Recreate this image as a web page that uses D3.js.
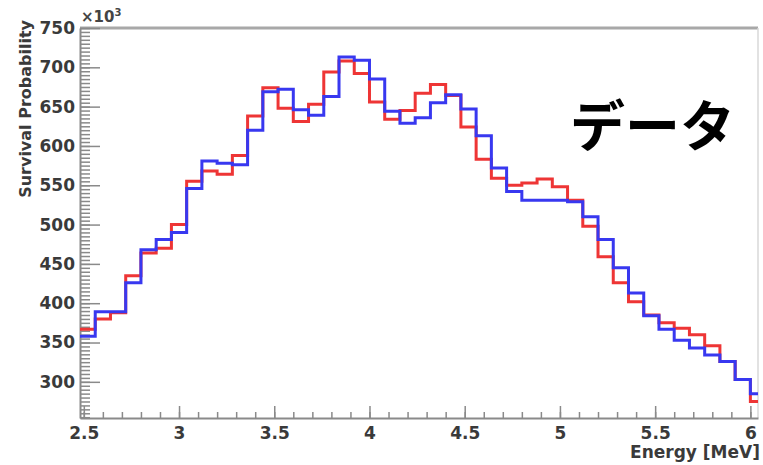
<!DOCTYPE html>
<html>
<head>
<meta charset="utf-8">
<script src="https://cdn.jsdelivr.net/npm/d3@7"></script>
<style>
  body { margin: 0; background: #fff; }
  .tick text { font-family: "DejaVu Sans", sans-serif; font-weight: bold; fill: #3a3a3a; }
</style>
</head>
<body>
<svg id="chart" width="763" height="465"></svg>
<script>
// lower edge of each energy bin [MeV]
const binEdges = [2.48, 2.56, 2.64, 2.72, 2.80, 2.88, 2.96, 3.04, 3.12, 3.20,
    3.28, 3.36, 3.44, 3.52, 3.60, 3.68, 3.76, 3.84, 3.92, 4.00,
    4.08, 4.16, 4.24, 4.32, 4.40, 4.48, 4.56, 4.64, 4.72, 4.80,
    4.88, 4.96, 5.04, 5.12, 5.20, 5.28, 5.36, 5.44, 5.52, 5.60,
    5.68, 5.76, 5.84, 5.92, 6.00, 6.08];

// bin contents, x10^3
const redCounts = [367, 380, 388, 435, 464, 470, 500, 555, 568, 564,
    588, 638, 674, 648, 631, 653, 694, 708, 692, 656,
    634, 645, 667, 678, 664, 624, 583, 559, 550, 553,
    558, 548, 531, 498, 459, 426, 402, 385, 375, 368,
    360, 346, 326, 303, 275];

const blueCounts = [358, 389, 389, 426, 468, 481, 490, 546, 581, 578,
    576, 620, 669, 672, 646, 639, 663, 713, 709, 685,
    644, 629, 636, 655, 665, 647, 613, 572, 542, 531,
    531, 531, 529, 510, 481, 445, 413, 384, 367, 353,
    343, 334, 326, 303, 285];

const xTicks = [2.5, 3, 3.5, 4, 4.5, 5, 5.5, 6];
const yTicks = [300, 350, 400, 450, 500, 550, 600, 650, 700, 750];

const margin = { top: 28, right: 5, bottom: 47, left: 80 };
const width = 763 - margin.left - margin.right;
const height = 465 - margin.top - margin.bottom;

const xScale = d3.scaleLinear().domain([2.48, 6.04]).range([0, width]);
const yScale = d3.scaleLinear().domain([254, 750]).range([height, 0]);

const svg = d3.select("#chart")
    .append("g")
    .attr("transform", `translate(${margin.left},${margin.top})`);

svg.append("clipPath").attr("id", "plotArea")
    .append("rect").attr("width", width).attr("height", height);

// frame
svg.append("line").attr("x1", 0).attr("x2", width).attr("y1", 0).attr("y2", 0)
    .attr("stroke", "#a8a8a8").attr("stroke-width", 3);
svg.append("line").attr("x1", width).attr("x2", width).attr("y1", 0).attr("y2", height)
    .attr("stroke", "#d8d8d8").attr("stroke-width", 1.5);

// minor ticks
svg.append("g")
    .call(d3.axisLeft(yScale).tickValues(d3.range(255, 751, 5)).tickSizeInner(-10).tickSizeOuter(0).tickFormat(""))
    .call(g => g.select(".domain").remove())
    .selectAll("line").attr("stroke", "#8a8a8a").attr("stroke-width", 1.5);

svg.append("g")
    .attr("transform", `translate(0,${height})`)
    .call(d3.axisBottom(xScale).tickValues(d3.range(2.5, 6.05, 0.1)).tickSizeInner(-6).tickSizeOuter(0).tickFormat(""))
    .call(g => g.select(".domain").remove())
    .selectAll("line").attr("stroke", "#8a8a8a").attr("stroke-width", 1.5);

// major axes
const yAxis = svg.append("g")
    .call(d3.axisLeft(yScale).tickValues(yTicks).tickSizeInner(-20).tickSizeOuter(0).tickPadding(5));
yAxis.selectAll("line").attr("stroke", "#8a8a8a").attr("stroke-width", 1.5);
yAxis.select(".domain").attr("stroke", "#8a8a8a").attr("stroke-width", 2);
yAxis.selectAll("text").style("font-size", "17px");

const xAxis = svg.append("g")
    .attr("transform", `translate(0,${height})`)
    .call(d3.axisBottom(xScale).tickValues(xTicks).tickSizeInner(-12).tickSizeOuter(0).tickPadding(9)
        .tickFormat(d3.format("~g")));
xAxis.selectAll("line").attr("stroke", "#8a8a8a").attr("stroke-width", 1.5);
xAxis.select(".domain").attr("stroke", "#8a8a8a").attr("stroke-width", 2);
xAxis.selectAll("text").style("font-size", "17px");

// histograms
const stepLine = d3.line()
    .x(d => xScale(d[0]))
    .y(d => yScale(d[1]))
    .curve(d3.curveStepAfter);

function histPoints(counts) {
    const pts = counts.map((c, i) => [binEdges[i], c]);
    pts.push([binEdges[counts.length], counts[counts.length - 1]]);
    return pts;
}

svg.append("path")
    .datum(histPoints(redCounts))
    .attr("clip-path", "url(#plotArea)")
    .attr("fill", "none")
    .attr("stroke", "#ee3535")
    .attr("stroke-width", 3)
    .attr("d", stepLine);

svg.append("path")
    .datum(histPoints(blueCounts))
    .attr("clip-path", "url(#plotArea)")
    .attr("fill", "none")
    .attr("stroke", "#3838f0")
    .attr("stroke-width", 3)
    .attr("d", stepLine);

// labels
const root = d3.select("#chart");

root.append("text")
    .attr("x", 81).attr("y", 22)
    .style("font-family", "DejaVu Sans, sans-serif")
    .style("font-size", "15px")
    .style("font-weight", "bold")
    .attr("fill", "#444")
    .text("\u00d710")
    .append("tspan")
    .attr("dy", -6)
    .style("font-size", "10px")
    .text("3");

root.append("text")
    .attr("transform", "translate(31,20) rotate(-90)")
    .attr("text-anchor", "end")
    .style("font-family", "DejaVu Sans, sans-serif")
    .style("font-size", "16px")
    .style("font-weight", "bold")
    .attr("fill", "#3a3a3a")
    .text("Survival Probability");

root.append("text")
    .attr("x", 760).attr("y", 458)
    .attr("text-anchor", "end")
    .style("font-family", "DejaVu Sans, sans-serif")
    .style("font-size", "17px")
    .style("font-weight", "bold")
    .attr("fill", "#3a3a3a")
    .text("Energy [MeV]");

root.append("text")
    .attr("x", 570).attr("y", 146)
    .style("font-family", "Noto Sans CJK JP, sans-serif")
    .style("font-size", "55px")
    .style("font-weight", "bold")
    .attr("fill", "#000")
    .text("データ");
</script>
</body>
</html>
